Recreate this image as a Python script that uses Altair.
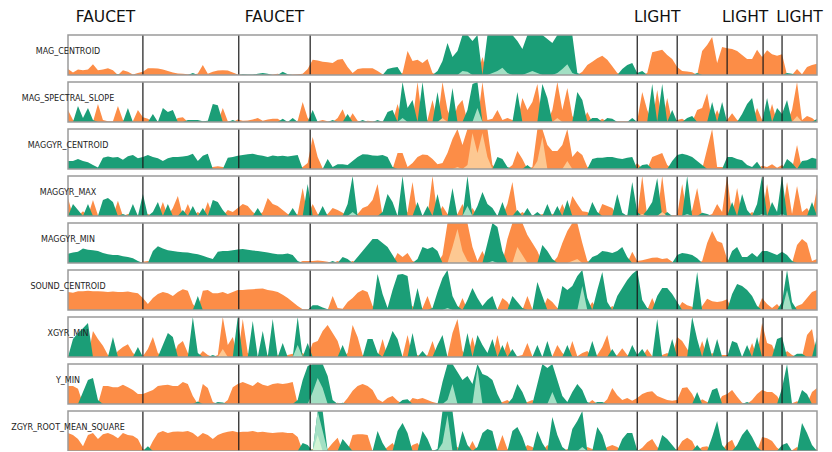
import altair as alt
import numpy as np
import pandas as pd

row_names = ["MAG_CENTROID", "MAG_SPECTRAL_SLOPE", "MAGGYR_CENTROID", "MAGGYR_MAX",
             "MAGGYR_MIN", "SOUND_CENTROID", "XGYR_MIN", "Y_MIN", "ZGYR_ROOT_MEAN_SQUARE"]

mag_centroid = [
    0.15, 0.06, 0.14, 0.12, 0.14, 0.27, 0.12, 0.14, 0.17, 0.12,
    -0.02, 0.12, 0.08, 0.01, 0.05, 0.08, 0.17, 0.17, 0.16, 0.14,
    0.10, 0.06, 0.04, 0.03, 0.02, -0.05, 0.04, 0.25, 0.03, 0.08,
    0.11, 0.12, 0.11, 0.06, 0.01, -0.02, -0.01, -0.01, -0.03, -0.05,
    -0.03, 0.01, 0.03, -0.08, -0.02, 0.01, 0.02, 0.03, 0.15, 0.38,
    0.36, 0.33, 0.32, 0.30, 0.38, 0.40, 0.20, 0.05, 0.15, 0.17,
    0.17, 0.17, 0.10, 0.02, -0.15, -0.18, -0.20, 0.05, 0.60, 0.35,
    0.38, 0.30, 0.40, 0.05, -0.10, -0.35, -0.80, -0.45, -0.60, -1.10,
    -1.08, -0.85, -1.00, 0.45, -1.00, -1.05, -1.10, -1.18, -1.05, -1.00,
    -0.85, -0.65, -1.05, -1.10, -1.05, -1.00, -0.90, -0.80, -1.05, -1.15,
    -1.27, -1.05, -0.05, 0.08, 0.25, 0.33, 0.42, 0.48, 0.38, 0.22,
    0.05, -0.15, -0.25, -0.30, -0.05, -0.10, 0.05, 0.57, 0.60, 0.63,
    0.50, 0.40, 0.20, 0.10, 0.09, 0.07, -0.05, 0.60, 0.75, 0.95,
    0.30, 0.70, 0.67, 0.65, 0.60, 0.50, 0.40, 0.40, 0.63, 0.45,
    0.62, 0.52, 0.48, 0.52, -0.05, -0.03, 0.15, 0.02, 0.20, 0.25, 0.28]

mag_spectral_slope = [
    0.30, 0.05, -0.40, -0.10, -0.35, -0.05, 0.45, 0.05, 0.02, 0.02,
    0.40, 0.05, -0.35, 0.02, 0.30, 0.12, 0.08, -0.20, 0.02, -0.35,
    -0.25, -0.30, 0.10, 0.12, -0.05, -0.05, -0.05, -0.02, -0.03, -0.45,
    -0.42, 0.35, 0.02, -0.05, 0.06, 0.03, 0.04, 0.06, 0.10, 0.03,
    0.06, 0.08, 0.08, -0.08, 0.02, -0.10, 0.03, 0.50, 0.10, -0.30,
    0.02, 0.05, 0.02, -0.05, 0.10, 0.32, -0.20, 0.22, 0.03, -0.05,
    0.03, 0.02, -0.05, 0.02, -0.25, -0.30, 0.45, -1.10, -0.35, -0.55,
    1.00, -1.00, 0.05, 0.55, -0.75, 1.10, 0.30, -0.85, 0.40, 0.55,
    -0.30, -0.95, -1.35, 1.00, 0.05, 0.08, 0.30, 0.05, 0.10, 0.05,
    -0.75, 0.60, 0.30, 0.50, 0.95, -0.95, -0.60, 0.30, 1.10, 0.30,
    0.85, 0.15, -0.75, -0.55, 0.25, -0.10, -0.10, 0.08, -0.10, -0.08,
    0.02, 0.02, 0.02, -0.10, 0.03, 0.75, 0.30, -0.95, 0.80, -0.95,
    0.60, -0.30, 0.05, 0.08, -0.10, -0.15, 0.30, 0.35, 0.72, -0.50,
    0.30, -0.50, 0.05, 0.22, 0.05, -0.20, -0.45, -0.60, 0.35, 0.05,
    -0.60, 0.45, -0.35, -0.20, -0.55, 0.30, 1.15, 0.05, 0.15, 0.10, -0.08]

maggyr_centroid = [
    -0.20, -0.20, -0.25, -0.20, -0.17, -0.10, -0.04, -0.28, -0.31, -0.29,
    -0.30, -0.23, -0.32, -0.35, -0.27, -0.30, -0.35, -0.30, -0.27, -0.20,
    -0.27, -0.30, -0.30, -0.31, -0.33, -0.38, -0.20, -0.33, -0.38, 0.05,
    0.07, 0.05, -0.28, -0.30, -0.33, -0.35, -0.37, -0.38, -0.35, -0.33,
    -0.30, -0.34, -0.32, -0.33, -0.31, -0.33, -0.35, 0.05, 0.15, 0.80,
    0.30, 0.02, -0.25, -0.05, -0.12, -0.12, -0.10, -0.20, -0.30, -0.37,
    -0.36, -0.34, -0.33, -0.35, -0.30, -0.05, 0.40, 0.40, 0.05, 0.15,
    0.30, 0.36, 0.35, 0.25, 0.12, 0.15, 0.40, 0.75, 1.05, 0.60,
    1.10, 1.90, 1.40, 1.90, 1.30, 0.10, -0.30, -0.25, -0.05, 0.10,
    0.45, 0.25, -0.10, 0.05, 1.20, 1.80, 0.60, 0.45, 0.45, 0.60,
    1.20, 0.30, 0.45, 0.35, 0.05, -0.25, -0.28, -0.28, -0.30, -0.30,
    -0.27, -0.25, -0.28, -0.30, 0.15, -0.10, -0.12, 0.30, 0.35, 0.40,
    0.10, -0.20, -0.35, -0.38, -0.35, -0.30, -0.20, -0.10, 0.50, 1.00,
    0.05, 0.05, -0.30, -0.30, -0.25, -0.22, -0.10, -0.05, -0.18, 0.08,
    0.05, 0.12, 0.03, 0.10, -0.25, -0.15, 0.60, -0.20, -0.22, -0.28, -0.25]

maggyr_max = [
    0.45, -0.30, -0.15, 0.12, -0.30, 0.40, 0.02, -0.40, -0.45, -0.35,
    0.38, -0.05, 0.05, -0.30, 0.03, -0.55, 0.05, -0.10, -0.35, 0.35,
    -0.30, 0.20, 0.50, -0.15, 0.30, -0.25, 0.10, -0.20, 0.35, -0.40,
    -0.35, -0.15, 0.15, 0.10, 0.20, 0.30, 0.25, 0.10, -0.20, 0.10,
    0.45, 0.30, 0.25, 0.15, 0.05, -0.20, 0.05, 0.70, -0.80, 0.30,
    0.05, -0.25, 0.05, 0.20, 0.15, 0.08, -0.30, -1.10, 0.05, 0.20,
    0.25, 0.40, 0.80, -0.10, -0.55, -0.35, 0.02, -1.00, 0.10, 0.85,
    -0.35, 0.02, -0.25, 1.00, -0.55, 0.25, 0.05, -0.70, 0.05, 0.30,
    -1.25, 0.20, -0.25, -0.60, -0.30, -0.20, 0.02, -0.35, 0.30, 0.85,
    -0.15, 0.10, -0.20, 0.02, -0.10, 0.05, -0.30, 0.05, -0.25, 0.30,
    -0.40, 0.50, 0.30, 0.12, 0.10, -0.35, -0.10, 0.30, 0.25, 0.20,
    -0.55, -0.08, 0.03, -0.85, -0.10, 1.05, -0.15, -0.35, -0.95, 1.10,
    -0.10, 0.02, 0.02, 0.80, -1.05, 0.15, 0.70, -0.08, -0.05, 0.05,
    0.30, 0.10, 1.00, -0.35, 0.70, -0.55, -0.15, 0.10, -0.30, -1.05,
    0.80, -0.35, -0.10, -1.05, 0.85, 0.05, 0.75, 0.10, 0.20, -0.35, 0.70]

maggyr_min = [
    -0.23, -0.26, -0.28, -0.36, -0.33, -0.32, -0.30, -0.25, -0.22, -0.20,
    -0.20, -0.17, -0.15, -0.12, -0.05, 0.03, 0.05, -0.30, -0.42, -0.36,
    -0.32, -0.30, -0.28, -0.27, -0.26, -0.24, -0.22, -0.18, -0.14, -0.10,
    -0.28, -0.30, -0.30, -0.32, -0.34, -0.35, -0.33, -0.31, -0.30, -0.28,
    -0.26, -0.24, -0.22, -0.22, -0.24, -0.20, -0.05, 0.05, 0.05, 0.05,
    0.06, 0.05, 0.03, -0.05, 0.05, -0.15, -0.10, 0.05, -0.15, -0.30,
    -0.45, -0.60, -0.60, -0.50, -0.40, -0.20, 0.25, 0.15, 0.25, 0.05,
    -0.10, -0.40, -0.35, -0.40, -0.30, 0.20, 1.00, 1.40, 1.85, 1.30,
    1.05, 0.40, 0.05, 0.30, -0.50, -1.05, -0.90, -0.30, 0.60, 1.00,
    1.40, 1.20, 0.70, 0.50, 0.30, -0.45, -0.30, -0.10, 0.15, 0.50,
    0.80, 1.05, 1.10, 0.50, 0.05, -0.15, -0.20, -0.30, -0.28, -0.25,
    -0.30, -0.40, -0.15, 0.28, 0.05, 0.07, 0.10, 0.13, 0.14, 0.10,
    0.12, 0.03, -0.20, -0.25, -0.23, -0.20, -0.12, 0.05, 0.50, 0.80,
    0.55, 0.50, 0.10, -0.30, -0.40, -0.15, -0.15, -0.25, -0.15, -0.30,
    -0.30, -0.25, -0.20, -0.28, -0.20, -0.05, 0.45, 0.60, 0.50, 0.05, 0.10]

sound_centroid = [
    0.45, 0.43, 0.47, 0.47, 0.48, 0.47, 0.47, 0.46, 0.45, 0.46,
    0.45, 0.45, 0.46, 0.44, 0.42, 0.30, 0.15, 0.30, 0.40, 0.45,
    0.42, 0.35, 0.45, 0.52, 0.48, 0.15, -0.35, 0.48, 0.50, 0.42,
    0.42, 0.45, 0.40, 0.45, 0.50, 0.50, 0.51, 0.52, 0.53, 0.54,
    0.50, 0.48, 0.45, 0.38, 0.30, 0.20, 0.10, 0.02, 0.02, -0.12,
    -0.12, -0.06, -0.02, 0.35, 0.05, 0.03, 0.20, 0.30, 0.43, 0.50,
    0.45, 0.10, -0.90, -0.40, -0.05, -0.50, -0.88, -0.90, -0.85, 0.10,
    -0.55, 0.05, 0.35, -0.05, -0.45, -0.80, -1.05, -0.35, -0.10, 0.30,
    -0.25, -0.55, -0.30, -0.10, -0.25, -0.35, 0.02, 0.30, 0.20, -0.35,
    -0.20, -0.05, 0.35, 0.02, -0.70, -0.35, 0.30, 0.20, 0.05, -0.60,
    -0.50, -0.60, -0.85, -1.60, -0.30, 0.20, -0.50, -0.95, -0.20, 0.10,
    -0.35, -0.55, -0.75, -0.90, -1.00, -0.25, -0.05, 0.30, -0.35, -0.55,
    -0.55, -0.40, -0.20, 0.20, 0.12, 0.08, -0.95, 0.10, 0.28, 0.22,
    0.20, 0.22, 0.27, -0.40, -0.65, -0.60, -0.50, -0.35, -0.10, 0.30,
    0.15, 0.05, 0.15, -0.20, -1.50, -0.20, 0.10, 0.15, 0.30, 0.45, 0.50]

xgyr_min = [
    0.05, -0.45, -0.60, -0.72, -0.85, 0.65, 0.45, 0.28, 0.05, -0.50,
    0.15, 0.25, 0.32, 0.10, -0.25, 0.02, 0.20, 0.50, 0.10, -0.30,
    -0.60, -0.50, 0.30, 0.40, 0.10, -1.00, -0.10, 0.15, 0.05, -0.05,
    0.05, 1.20, 0.30, 0.50, -1.00, 0.95, 0.10, -0.90, 0.02, -0.65,
    0.05, -0.95, 0.05, -0.35, 0.05, 0.08, -1.30, 0.10, -0.35, 0.35,
    0.40, 0.65, 0.80, 0.60, 0.40, -0.30, 0.10, 0.80, 0.50, 0.05,
    -0.45, -0.45, -0.10, 0.45, -0.30, -0.65, -0.45, 0.02, 0.55, -0.60,
    0.05, -0.15, 0.05, 0.40, -0.30, -0.55, 0.02, 0.60, 0.95, 0.15,
    -0.60, 0.50, -0.55, -0.30, -0.10, -0.45, 0.55, -0.30, 0.40, -0.20,
    0.02, 0.05, 0.35, 0.02, -0.30, 0.02, -0.40, 0.02, 0.30, 0.10,
    -0.30, 0.40, 0.02, 0.10, 0.15, -0.40, 0.05, 0.25, 0.55, -0.20,
    0.05, 0.22, 0.05, -0.30, -0.05, -0.20, 0.20, 0.02, -0.95, 0.05,
    0.10, -0.45, 0.50, 0.40, 0.20, -1.00, -0.45, 0.40, -0.50, 0.10,
    -0.45, 0.05, 0.05, -0.40, -0.35, 0.02, -0.30, 0.35, -0.50, 0.85,
    0.35, 0.30, -0.45, -0.50, 0.15, 0.05, -0.08, -0.08, 0.55, 0.70, -0.50]

y_min = [
    0.45, 0.45, 0.38, -0.30, -0.60, -0.65, -0.10, 0.45, 0.45, 0.42,
    0.42, 0.48, 0.42, 0.35, 0.25, 0.25, 0.30, 0.35, 0.45, 0.47,
    0.48, 0.45, 0.45, 0.55, 0.50, 0.20, -0.06, 0.50, 0.40, 0.05,
    -0.05, -0.04, 0.10, 0.42, 0.50, 0.55, 0.50, 0.45, 0.55, 0.48,
    0.45, 0.50, 0.52, 0.50, 0.52, 0.55, -0.10, -0.60, -0.95, -1.30,
    -1.65, -1.40, -0.70, -0.10, 0.03, -0.03, 0.15, 0.33, 0.45, 0.50,
    0.45, 0.35, 0.12, 0.05, 0.15, 0.20, 0.08, -0.10, -0.12, 0.15,
    0.12, 0.15, 0.10, 0.05, 0.02, -0.55, -1.10, -1.50, -0.80, -0.60,
    -0.70, -0.50, -1.90, -0.75, -0.70, -0.60, -0.25, 0.05, 0.10, -0.15,
    -0.50, -0.30, 0.05, 0.10, -0.50, -1.00, -0.90, -1.30, -0.60, -0.20,
    -0.05, -0.30, -0.50, -0.35, -0.05, 0.10, -0.05, -0.05, 0.12, 0.40,
    0.22, 0.10, 0.15, 0.08, 0.15, 0.25, 0.30, 0.32, 0.20, 0.15,
    0.10, 0.08, 0.10, 0.40, 0.42, 0.25, -0.30, 0.12, 0.05, -0.35,
    -0.40, 0.20, 0.25, 0.35, 0.18, 0.03, -0.05, 0.10, 0.25, 0.35,
    0.30, 0.30, 0.20, -0.40, -1.00, 0.02, 0.07, -0.35, -0.25, 0.30, 0.40]

zgyr_root_mean_square = [
    0.45, 0.40, 0.30, 0.12, 0.40, 0.45, 0.30, 0.42, 0.45, 0.40,
    0.32, 0.45, 0.40, 0.38, 0.30, 0.05, -0.12, 0.25, 0.45, 0.50,
    0.45, 0.48, 0.49, 0.48, 0.50, 0.45, 0.35, 0.45, 0.40, 0.30,
    0.40, 0.45, 0.48, 0.50, 0.47, 0.48, 0.48, 0.50, 0.47, 0.48,
    0.46, 0.45, 0.46, 0.47, 0.45, 0.45, 0.35, -0.20, -0.15, 0.05,
    -2.40, -1.50, 0.05, 0.20, 0.33, -0.30, -0.15, 0.40, 0.42, 0.42,
    0.40, 0.00, -0.50, -0.20, 0.10, 0.20, -0.50, -0.70, -0.45, 0.15,
    0.20, -0.50, -0.30, 0.02, -0.05, -1.20, -1.90, -1.00, 0.10, -0.50,
    -0.15, 0.25, -0.10, -0.45, -0.55, -0.50, 0.05, 0.40, 0.05, -0.50,
    -0.60, -0.35, 0.15, 0.10, -0.50, -0.20, 0.15, -0.85, -0.40, -0.10,
    0.05, -0.55, -0.75, -1.10, 0.10, 0.05, -0.60, -0.40, 0.10, 0.15,
    0.10, -0.30, -0.45, -0.45, -0.02, 0.08, 0.22, 0.30, 0.10, -0.40,
    -0.30, -0.15, 0.05, 0.25, 0.33, 0.25, -0.15, 0.10, 0.12, -0.35,
    -0.75, -0.15, 0.20, 0.28, -0.15, -0.40, -0.55, -0.35, -0.10, 0.35,
    0.32, 0.25, 0.08, -0.15, -0.20, 0.02, 0.10, -0.70, -0.45, -0.15, 0.05]

series = [mag_centroid, mag_spectral_slope, maggyr_centroid, maggyr_max, maggyr_min,
          sound_centroid, xgyr_min, y_min, zgyr_root_mean_square]

event_names = ["FAUCET", "FAUCET", "LIGHT", "LIGHT", "LIGHT"]
event_start = [0, 34.2, 114, 132, 143]
event_end = [15, 48.5, 122, 139.2, 150]

T_MAX = 150
ROW_STEP = 47 / 40          # row pitch in band units (panel = 1 band)
band_keys = ["p0", "n0", "p1", "n1", "p2", "n2"]
band_colors = {"p0": "#fc8d47", "n0": "#1b9e77", "p1": "#fdc892", "n1": "#a3e0c4",
               "p2": "#fee8cc", "n2": "#d2f5d4"}

# ---- build long tables -------------------------------------------------------
area_parts = []
for r, (name, vals) in enumerate(zip(row_names, series)):
    v = np.array(vals, dtype=float)
    base = -r * ROW_STEP
    for k in range(3):
        for sign, key in ((1, f"p{k}"), (-1, f"n{k}")):
            h = np.clip(sign * v - k, 0, 1)
            area_parts.append(pd.DataFrame({
                "row": name, "band": key, "t": np.arange(len(v)),
                "y": base + h, "y0": base}))
areas_df = pd.concat(area_parts, ignore_index=True)

frames_df = pd.DataFrame({"row": row_names,
                          "base": [-r * ROW_STEP for r in range(len(row_names))]})
frames_df["top"] = frames_df["base"] + 1
frames_df["label_y"] = frames_df["base"] + 1 - 17 / 40

bounds = sorted(set(event_start + event_end) - {0, T_MAX})
rules_df = frames_df.merge(pd.DataFrame({"t": bounds}), how="cross")

events_df = pd.DataFrame({"name": event_names,
                          "mid": [(s + e) / 2 for s, e in zip(event_start, event_end)]})

xscale = alt.Scale(domain=[0, T_MAX], nice=False, zero=False)
yscale = alt.Scale(domain=[-(len(row_names) - 1) * ROW_STEP, 1], nice=False, zero=False)

layers = []
for key in band_keys:
    layers.append(
        alt.Chart(areas_df).transform_filter(alt.datum.band == key)
        .mark_area(color=band_colors[key], interpolate="linear")
        .encode(x=alt.X("t:Q", scale=xscale, axis=None),
                y=alt.Y("y:Q", scale=yscale, axis=None, stack=None),
                y2="y0:Q",
                detail="row:N"))

rules = alt.Chart(rules_df).mark_rule(color="#1a1a1a", strokeWidth=1.2).encode(
    x=alt.X("t:Q", scale=xscale, axis=None),
    y=alt.Y("base:Q", scale=yscale, axis=None),
    y2="top:Q")

frames = alt.Chart(frames_df).mark_rect(fillOpacity=0, stroke="#9a9a9a", strokeWidth=1.5).encode(
    x=alt.X(datum=0, scale=xscale, axis=None),
    x2=alt.X2(datum=T_MAX),
    y=alt.Y("base:Q", scale=yscale, axis=None),
    y2="top:Q")

labels = alt.Chart(frames_df).mark_text(
    font="DejaVu Sans", fontSize=8, color="#222222", align="center", baseline="middle"
).encode(x=alt.value(0), y=alt.Y("label_y:Q", scale=yscale, axis=None), text="row:N")

tops = alt.Chart(events_df).mark_text(
    font="DejaVu Sans", fontSize=15.5, color="#111111", align="center", baseline="middle"
).encode(x=alt.X("mid:Q", scale=xscale, axis=None), y=alt.value(-18), text="name:N")

chart = alt.layer(*layers, rules, frames, labels, tops).properties(
    width=749, height=416,
    autosize=alt.AutoSizeParams(type="none"),
    padding={"left": 60, "top": 27, "right": 7, "bottom": 0},
).configure_view(strokeWidth=0)

chart.save("out.html", embed_options={"renderer": "svg", "actions": False})
